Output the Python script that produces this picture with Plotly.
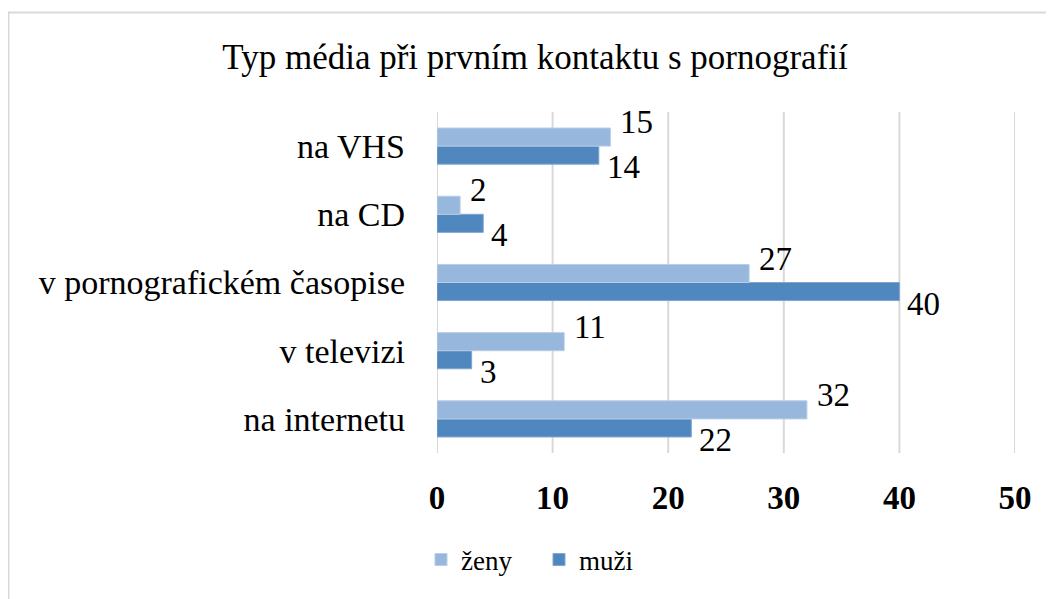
import plotly.graph_objects as go

categories = ["na internetu", "v televizi", "v pornografickém časopise", "na CD", "na VHS"]
zeny = [32, 11, 27, 2, 15]
muzi = [22, 3, 40, 4, 14]
x_ticks = [0, 10, 20, 30, 40, 50]
title_text = "Typ média při prvním kontaktu s pornografií"

C_ZENY = "#97B7DD"
C_MUZI = "#4F87BE"
GRID = "#D9D9D9"
FONT = "Liberation Serif, Times New Roman, serif"

# page body has an 8px margin; figure is sized/positioned to compensate
OFF = 8
W, H = 1054 - OFF, 599 - OFF
L, R = 437 - OFF, 39
T = 112 - OFF
B = H - (453 - OFF)
pw, ph = W - L - R, H - T - B


def px_x(p):  # page px -> paper x
    return (p - OFF - L) / pw


def px_y(p):  # page px -> paper y
    return 1 - (p - OFF - T) / ph


fig = go.Figure()
fig.add_trace(go.Bar(y=categories, x=muzi, name="muži", orientation="h",
                     marker=dict(color=C_MUZI, line=dict(color="#7FA6D3", width=1)),
                     legendrank=2, hoverinfo="x+name"))
fig.add_trace(go.Bar(y=categories, x=zeny, name="ženy", orientation="h",
                     marker=dict(color=C_ZENY, line=dict(color="#B7CDE8", width=1)),
                     legendrank=1, hoverinfo="x+name"))

ann = []
for c, v in zip(categories, zeny):
    ann.append(dict(x=v, y=c, xref="x", yref="y", text=str(v), showarrow=False,
                    xanchor="left", yanchor="middle", xshift=8, yshift=24,
                    font=dict(family=FONT, size=33, color="#000")))
for c, v in zip(categories, muzi):
    ann.append(dict(x=v, y=c, xref="x", yref="y", text=str(v), showarrow=False,
                    xanchor="left", yanchor="middle", xshift=6, yshift=-21,
                    font=dict(family=FONT, size=33, color="#000")))

# vertical gridlines at every tick (incl. the right edge)
shapes = [dict(type="line", xref="x", yref="paper", x0=t, x1=t, y0=0, y1=1,
               line=dict(color=GRID, width=2), layer="below") for t in x_ticks]
# chart-area border
shapes.append(dict(type="rect", xref="paper", yref="paper",
                   x0=px_x(OFF + 0.5), x1=px_x(1070),
                   y0=px_y(620), y1=px_y(12.5),
                   line=dict(color=GRID, width=2), fillcolor="rgba(0,0,0,0)", layer="below"))

fig.update_layout(
    width=W, height=H,
    margin=dict(l=L, r=R, t=T, b=B, pad=0),
    paper_bgcolor="white", plot_bgcolor="white",
    barmode="group", bargap=0.47, bargroupgap=0,
    title=dict(text=title_text, x=(535 - OFF) / W, xanchor="center", y=1 - (57 - OFF) / H,
               yanchor="middle", yref="container",
               font=dict(family=FONT, size=35, color="#000")),
    xaxis=dict(range=[0, 50], tickvals=x_ticks, showgrid=False,
               zeroline=False, showline=False,
               ticks="", ticklabelstandoff=22, automargin=False,
               tickfont=dict(family=FONT, size=33, color="#000", weight="bold")),
    yaxis=dict(range=[-0.5, len(categories) - 0.5], autorange=False,
               showgrid=False, zeroline=False, showline=False, ticks="", ticklabelstandoff=31,
               automargin=False, tickfont=dict(family=FONT, size=34, color="#000")),
    legend=dict(orientation="h", x=px_x(421), xanchor="left", y=px_y(560),
                yanchor="middle", font=dict(family=FONT, size=27, color="#000"),
                entrywidth=73, entrywidthmode="pixels", traceorder="normal"),
    annotations=ann,
    shapes=shapes,
)

fig.write_html("out.html")
